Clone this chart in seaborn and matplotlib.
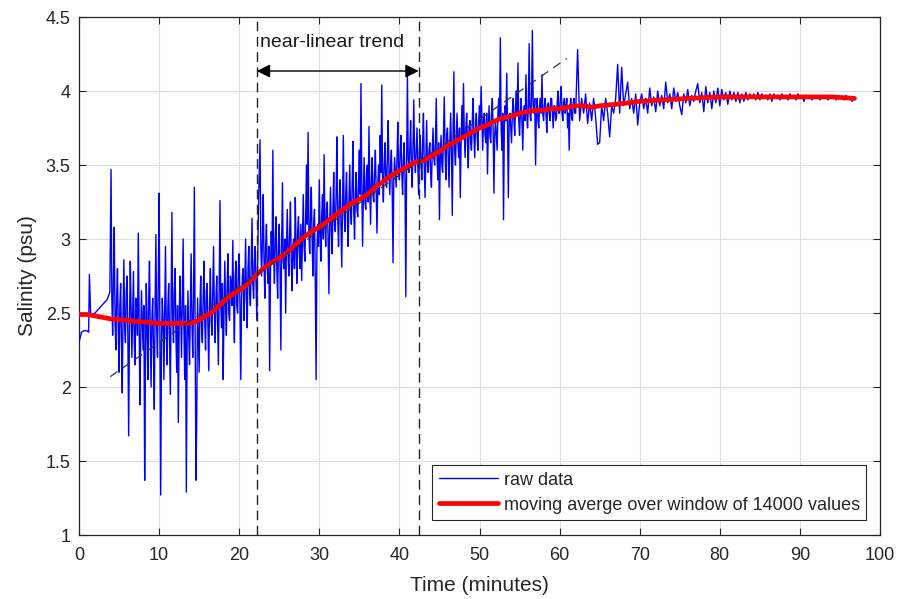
import numpy as np
import pandas as pd
import matplotlib
matplotlib.use("Agg")
import matplotlib.pyplot as plt
import seaborn as sns

# ---------------- data ----------------
# start-up segment (explicit times)
start_time = [0.0, 0.3, 0.6, 1.0, 1.2, 1.3, 1.45, 1.6, 2.0, 2.5, 3.0, 3.5, 3.85]
start_sal = [2.30, 2.37, 2.38, 2.38, 2.37, 2.76, 2.50, 2.49, 2.50, 2.53, 2.56, 2.59, 2.64]

# noisy segment, sampled every 0.1 min from 4.0 to 61.9
noisy_t0, noisy_t1 = 4.0, 61.9
noisy_sal = [
    3.47, 2.60, 2.35, 2.75, 3.08, 2.45, 2.25, 2.60, 2.80, 2.40,
    2.10, 2.55, 2.70, 2.30, 1.96, 2.50, 2.86, 2.40, 2.30, 2.65,
    2.75, 2.35, 1.67, 2.40, 2.85, 2.55, 2.20, 2.50, 2.78, 2.30,
    2.15, 2.60, 2.55, 2.35, 3.04, 2.50, 1.88, 2.30, 2.65, 2.45,
    2.25, 2.55, 1.37, 2.20, 2.70, 2.40, 2.05, 2.60, 2.85, 2.35,
    2.00, 2.45, 2.60, 2.25, 1.85, 2.55, 3.03, 2.40, 2.20, 2.70,
    3.31, 2.40, 1.27, 2.30, 2.60, 2.45, 2.05, 2.50, 2.95, 2.35,
    2.15, 2.55, 2.70, 2.30, 1.95, 2.60, 3.18, 2.45, 2.30, 2.65,
    2.80, 2.35, 2.10, 2.55, 1.76, 2.40, 2.75, 2.50, 2.20, 2.60,
    3.00, 2.40, 2.05, 2.55, 1.29, 2.30, 2.65, 2.35, 2.15, 2.55,
    2.90, 2.45, 2.20, 2.60, 3.35, 2.30, 1.37, 1.78, 2.60, 2.35,
    2.10, 2.55, 2.75, 2.40, 2.30, 2.60, 2.85, 2.45, 2.25, 2.65,
    2.70, 2.40, 2.11, 2.55, 2.80, 2.45, 2.35, 2.65, 2.95, 2.50,
    2.30, 2.60, 2.75, 2.45, 2.15, 2.65, 3.26, 2.55, 2.40, 2.70,
    2.05, 2.50, 2.85, 2.55, 2.35, 2.70, 2.90, 2.50, 2.45, 2.75,
    2.70, 2.55, 2.99, 2.60, 2.30, 2.75, 2.85, 2.55, 2.50, 2.80,
    2.90, 2.55, 2.05, 2.60, 2.75, 2.80, 2.45, 2.70, 3.00, 2.60,
    2.40, 2.80, 2.95, 2.65, 2.55, 2.85, 3.14, 2.70, 2.60, 2.85,
    2.95, 2.70, 2.45, 2.85, 3.20, 3.45, 3.67, 2.95, 2.75, 3.00,
    3.30, 2.85, 2.60, 2.95, 3.10, 2.80, 2.70, 2.95, 2.11, 2.75,
    3.05, 2.85, 3.60, 2.90, 2.70, 3.00, 3.15, 2.80, 2.60, 2.95,
    3.10, 2.80, 2.25, 2.95, 3.38, 2.85, 2.80, 3.00, 2.50, 2.95,
    3.20, 2.90, 2.75, 3.05, 3.25, 2.85, 2.65, 2.95, 3.00, 2.80,
    3.28, 2.95, 2.70, 3.05, 3.15, 2.90, 2.80, 3.10, 2.72, 3.00,
    3.30, 2.95, 2.85, 3.15, 3.50, 3.10, 3.72, 3.05, 2.90, 3.15,
    3.35, 3.00, 2.75, 3.10, 3.20, 2.70, 2.05, 2.90, 3.10, 2.95,
    3.40, 3.05, 2.85, 3.15, 3.30, 3.00, 3.57, 3.10, 2.95, 3.20,
    3.25, 3.00, 2.63, 3.10, 3.35, 3.05, 2.90, 3.20, 3.45, 3.10,
    3.05, 3.30, 3.69, 3.15, 2.95, 3.25, 3.40, 3.10, 2.81, 3.20,
    3.70, 3.20, 3.05, 3.30, 3.45, 3.15, 2.95, 3.25, 3.50, 3.20,
    3.10, 3.35, 3.66, 3.20, 3.00, 3.30, 3.45, 3.20, 3.15, 3.40,
    3.60, 3.30, 4.05, 3.40, 2.95, 3.30, 3.55, 3.25, 3.20, 3.45,
    3.50, 3.25, 3.76, 3.35, 3.10, 3.40, 3.55, 3.30, 3.25, 3.45,
    3.60, 3.30, 3.04, 3.35, 3.50, 3.30, 3.70, 3.45, 4.04, 3.40,
    3.25, 3.50, 3.65, 3.40, 3.35, 3.55, 3.80, 3.45, 3.30, 3.50,
    3.60, 3.35, 2.84, 3.40, 3.55, 3.45, 3.35, 3.55, 3.79, 3.45,
    3.40, 3.60, 3.70, 3.45, 3.30, 3.55, 3.65, 3.40, 2.61, 3.50,
    4.11, 3.55, 3.45, 3.60, 3.80, 3.50, 3.35, 3.65, 3.94, 3.55,
    3.45, 3.60, 3.75, 3.50, 3.30, 3.60, 3.70, 3.50, 3.40, 3.65,
    3.85, 3.50, 3.28, 3.55, 3.80, 3.50, 3.45, 3.60, 3.65, 3.45,
    3.35, 3.60, 3.75, 3.55, 3.50, 3.65, 3.95, 3.55, 3.40, 3.65,
    3.13, 3.55, 3.70, 3.50, 3.45, 3.70, 3.96, 3.60, 3.40, 3.70,
    3.75, 3.55, 3.35, 3.65, 3.85, 3.60, 3.16, 3.70, 4.13, 3.60,
    3.50, 3.70, 3.85, 3.65, 3.55, 3.75, 3.28, 3.65, 3.90, 3.70,
    4.05, 3.70, 3.55, 3.75, 3.85, 3.65, 3.48, 3.75, 3.80, 3.65,
    3.60, 3.80, 3.95, 3.70, 3.55, 3.75, 3.85, 3.70, 3.60, 3.80,
    3.90, 3.75, 4.03, 3.80, 3.60, 3.80, 3.85, 3.70, 3.65, 3.85,
    3.44, 3.75, 3.90, 3.70, 3.65, 3.85, 3.95, 3.75, 3.31, 3.70,
    3.80, 3.70, 3.60, 3.85, 3.95, 3.80, 4.36, 3.75, 3.60, 3.85,
    3.13, 3.75, 3.90, 3.80, 4.12, 3.75, 3.28, 3.80, 3.85, 3.75,
    3.65, 3.85, 3.95, 3.80, 3.70, 3.90, 4.00, 3.85, 4.19, 3.80,
    3.70, 3.85, 3.95, 3.80, 3.60, 3.85, 3.90, 3.80, 4.11, 3.85,
    3.75, 3.90, 4.32, 3.85, 3.80, 3.95, 4.41, 3.90, 3.85, 3.95,
    3.50, 3.85, 3.95, 3.80, 3.75, 3.90, 3.95, 3.85, 4.11, 3.85,
    3.80, 3.90, 3.95, 3.85, 3.72, 3.90, 3.92, 3.85, 3.80, 3.95,
    3.95, 3.85, 3.75, 3.90, 3.90, 3.80, 3.82, 3.92, 4.00, 3.85,
    3.85, 3.95, 4.03, 3.85, 3.80, 3.92, 3.95, 3.85, 3.89, 3.95,
    3.75, 3.85, 3.60, 3.90, 3.95, 3.82, 3.80, 3.92, 3.95, 3.85,
]

# settling segment, sampled every 0.25 min from 62.0 to 97.0
settle_t0, settle_t1 = 62.0, 97.0
settle_sal = [
    3.85, 4.28, 3.80, 3.95,
    3.85, 3.98, 3.78, 3.92,
    3.80, 3.95, 3.82, 3.64,
    3.65, 3.90, 3.80, 3.95,
    3.85, 3.69, 3.90, 3.85,
    3.95, 4.18, 3.85, 4.16,
    3.90, 3.98, 4.06, 3.88,
    3.95, 3.85, 3.98, 3.77,
    3.92, 3.98, 3.88, 3.95,
    3.85, 4.02, 3.90, 3.96,
    3.86, 4.00, 3.90, 3.97,
    3.88, 4.06, 3.92, 3.98,
    3.88, 4.02, 3.93, 3.99,
    3.90, 3.84, 3.98, 3.92,
    4.01, 3.90, 3.97, 3.93,
    4.00, 4.05, 3.92, 3.99,
    3.86, 4.03, 3.92, 3.99,
    3.88, 4.00, 3.92, 4.02,
    3.90, 4.01, 3.94, 3.99,
    3.91, 4.00, 3.94, 3.99,
    3.93, 3.99, 3.92, 3.98,
    3.93, 3.99, 3.94, 3.98,
    3.95, 3.98, 3.94, 3.99,
    3.94, 3.98, 3.95, 3.97,
    3.94, 3.98, 3.93, 3.98,
    3.95, 3.97, 3.94, 3.98,
    3.95, 3.97, 3.94, 3.98,
    3.95, 3.97, 3.94, 3.98,
    3.95, 3.97, 3.93, 3.97,
    3.95, 3.97, 3.94, 3.97,
    3.95, 3.97, 3.94, 3.97,
    3.95, 3.97, 3.94, 3.96,
    3.95, 3.97, 3.94, 3.97,
    3.95, 3.96, 3.94, 3.97,
    3.95, 3.96, 3.93, 3.96,
    3.95,
]

# moving average (red)
ma_time = [0, 1, 2, 3, 4, 6, 8, 10, 12, 13.5, 14.5, 15.5, 16.5, 17.5, 18.5,
           19.5, 20.5, 21.3, 22.2, 23, 24, 25, 26, 27, 28, 29, 30, 31, 32, 33,
           34, 35, 36, 37, 38, 39, 40, 41, 42, 43, 44, 45, 46, 47, 48, 49, 50,
           51, 52, 53, 54, 55, 56, 57, 58, 59, 60, 61, 62, 63, 64, 65, 67, 70,
           73, 76, 80, 85, 90, 94, 96.8]
ma_sal = [2.49, 2.49, 2.48, 2.47, 2.46, 2.45, 2.44, 2.43, 2.43, 2.43, 2.44,
          2.47, 2.50, 2.55, 2.60, 2.64, 2.67, 2.71, 2.76, 2.80, 2.84, 2.87,
          2.91, 2.96, 3.01, 3.05, 3.08, 3.12, 3.16, 3.20, 3.24, 3.27, 3.30,
          3.35, 3.39, 3.43, 3.46, 3.49, 3.52, 3.53, 3.56, 3.59, 3.63, 3.66,
          3.69, 3.72, 3.75, 3.77, 3.80, 3.82, 3.83, 3.85, 3.86, 3.87, 3.87,
          3.88, 3.88, 3.89, 3.90, 3.90, 3.89, 3.90, 3.91, 3.93, 3.94, 3.95,
          3.96, 3.96, 3.96, 3.96, 3.95]

# near-linear trend
trend_time = [3.9, 60.9]
trend_sal = [2.07, 4.22]
trend_bounds = [22.2, 42.4]
arrow_level = 4.135
label_pos = (22.6, 4.33)

x_ticks = [0, 10, 20, 30, 40, 50, 60, 70, 80, 90, 100]
y_ticks = [1, 1.5, 2, 2.5, 3, 3.5, 4, 4.5]
y_labels = ["1", "1.5", "2", "2.5", "3", "3.5", "4", "4.5"]

# ---------------- assemble ----------------
noisy_time = np.linspace(noisy_t0, noisy_t1, len(noisy_sal))
settle_time = np.linspace(settle_t0, settle_t1, len(settle_sal))
raw = pd.DataFrame({
    "time": np.concatenate([start_time, noisy_time, settle_time]),
    "sal": np.concatenate([start_sal, noisy_sal, settle_sal]),
})
ma = pd.DataFrame({"time": ma_time, "sal": ma_sal})

sns.set_style("ticks")
plt.rcParams["font.family"] = ["Liberation Sans", "DejaVu Sans"]

fig = plt.figure(figsize=(9.04, 5.99), dpi=100)
ax = fig.add_axes([79 / 904, 1 - 535 / 599, (880 - 79) / 904, (535 - 17) / 599])

sns.lineplot(data=raw, x="time", y="sal", ax=ax, color="#0000ff", lw=1.0,
             sort=False, estimator=None, label="raw data", zorder=3)
sns.lineplot(data=ma, x="time", y="sal", ax=ax, color="#ff0000", lw=3.4,
             sort=False, estimator=None,
             label="moving averge over window of 14000 values", zorder=4)
ax.plot(trend_time, trend_sal, color="#333333", lw=0.9, ls=(0, (7, 5)), zorder=5)
for xb in trend_bounds:
    ax.axvline(xb, color="#222222", lw=1.0, ls=(0, (7, 4)), zorder=5)

ax.annotate("", xy=(trend_bounds[0], arrow_level), xytext=(trend_bounds[1], arrow_level),
            arrowprops=dict(arrowstyle="<|-|>", color="black", lw=1.0,
                            mutation_scale=20, shrinkA=0, shrinkB=0), zorder=6)
ax.text(label_pos[0], label_pos[1], "near-linear trend", fontsize=14,
        color="#1a1a1a", va="center", ha="left")

ax.set_xlim(0, 100)
ax.set_ylim(1, 4.5)
ax.set_xticks(x_ticks)
ax.set_yticks(y_ticks)
ax.set_yticklabels(y_labels)
ax.grid(True, color="#dedede", lw=0.8)
ax.set_axisbelow(True)
ax.tick_params(direction="in", top=True, right=True, length=5, width=0.8,
               labelsize=13, colors="#262626")
ax.tick_params(axis="x", pad=9)
ax.tick_params(axis="y", pad=6)
for s in ax.spines.values():
    s.set_color("#262626")
    s.set_linewidth(0.9)
ax.set_xlabel("Time (minutes)", fontsize=15, color="#262626", labelpad=8)
ax.set_ylabel("Salinity (psu)", fontsize=15, color="#262626", labelpad=6)

leg = ax.legend(loc="lower right", bbox_to_anchor=(0.9825, 0.029), borderaxespad=0,
                fontsize=13, frameon=True, fancybox=False, handlelength=3.3,
                borderpad=0.35, labelspacing=0.45, handletextpad=0.3)
leg.get_frame().set_edgecolor("#262626")
leg.get_frame().set_linewidth(0.8)
leg.get_frame().set_alpha(1)

fig.savefig("out.png", dpi=100)
